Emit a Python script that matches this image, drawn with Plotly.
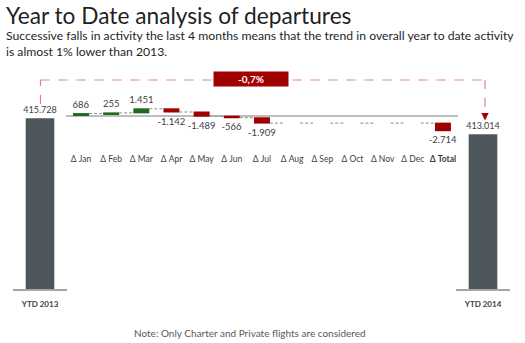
import plotly.graph_objects as go

# ---------------- data ----------------
months = ["Jan", "Feb", "Mar", "Apr", "May", "Jun", "Jul", "Aug", "Sep", "Oct", "Nov", "Dec"]
month_deltas = [686, 255, 1451, -1142, -1489, -566, -1909, 0, 0, 0, 0, 0]
ytd_labels = ["YTD 2013", "YTD 2014"]
ytd_values = [415728, 413014]

total_delta = sum(month_deltas)
pct_change = (ytd_values[1] - ytd_values[0]) / ytd_values[0] * 100

W, H = 525, 343
FONT = "Lato, 'Open Sans', sans-serif"
TXT = "#404040"
GREEN = "#1E6B1E"
RED = "#A00000"
SLATE = "#4E575C"
DASHRED = "rgb(232,130,130)"


def fmt(v):
    return f"{v:,}".replace(",", ".")


def fx(px):
    return px / W


def fy(py):
    return 1 - py / H


cats = ["Δ " + m for m in months] + ["Δ Total"]
ticktext = ["Δ " + m for m in months] + ["<b>Δ Total</b>"]
wf_values = month_deltas + [total_delta]
wf_text = [fmt(v) if v != 0 else "" for v in month_deltas] + [fmt(total_delta)]

fig = go.Figure()

fig.add_trace(go.Waterfall(
    x=cats, y=wf_values, measure=["relative"] * len(cats),
    text=wf_text, textposition="outside", texttemplate="%{text}", constraintext="none",
    textfont=dict(family=FONT, size=9.5, color=TXT),
    increasing=dict(marker=dict(color=GREEN, line=dict(width=0))),
    decreasing=dict(marker=dict(color=RED, line=dict(width=0))),
    totals=dict(marker=dict(color=RED, line=dict(width=0))),
    connector=dict(mode="between", line=dict(color="#8C8C8C", width=1, dash="3px,2px")),
    width=0.53, xaxis="x", yaxis="y", cliponaxis=False, hoverinfo="skip",
))

fig.add_trace(go.Bar(
    x=[ytd_labels[0]], y=[ytd_values[0]], text=[fmt(ytd_values[0])],
    textposition="outside", constraintext="none",
    textfont=dict(family=FONT, size=9, color=TXT),
    marker=dict(color=SLATE, line=dict(width=0)), width=0.53,
    xaxis="x2", yaxis="y2", cliponaxis=False,
))
fig.add_trace(go.Bar(
    x=[ytd_labels[1]], y=[ytd_values[1]], text=[fmt(ytd_values[1])],
    textposition="outside", constraintext="none",
    textfont=dict(family=FONT, size=9, color=TXT),
    marker=dict(color=SLATE, line=dict(width=0)), width=0.53,
    xaxis="x3", yaxis="y3", cliponaxis=False,
))

# scales
wf_y0_px, wf_px_per_unit = 115.5, 0.0028
wf_top_px, wf_bot_px = 60, 152
wf_range = [-(wf_bot_px - wf_y0_px) / wf_px_per_unit, (wf_y0_px - wf_top_px) / wf_px_per_unit]

big_base, big_px_per_unit = 386770, 0.005895
big_top_px, big_bot_px = 60, 289
big_range = [big_base, big_base + (big_bot_px - big_top_px) / big_px_per_unit]

tickfont = dict(family=FONT, size=8.5, color=TXT)
fig.update_layout(
    width=W, height=H, margin=dict(l=0, r=0, t=0, b=0),
    paper_bgcolor="white", plot_bgcolor="rgba(0,0,0,0)",
    showlegend=False, font=dict(family=FONT, color=TXT),
    xaxis=dict(domain=[fx(65.9), fx(458)], type="category", range=[-0.5, 12.5],
               tickvals=cats, ticktext=ticktext, tickfont=tickfont,
               showline=False, showgrid=False, zeroline=False, ticks="", anchor="y"),
    yaxis=dict(domain=[fy(wf_bot_px), fy(wf_top_px)], range=wf_range,
               showgrid=False, showticklabels=False, zeroline=True,
               zerolinecolor="#BDBDBD", zerolinewidth=1.5, anchor="x"),
    xaxis2=dict(domain=[fx(13), fx(67)], type="category", range=[-0.5, 0.5],
                tickfont=dict(family=FONT, size=8, color=TXT), showline=True,
                linecolor="#A6A6A6", linewidth=1.5, showgrid=False,
                ticks="outside", ticklen=7, tickcolor="rgba(0,0,0,0)", anchor="y2",
                tickvals=[ytd_labels[0]], ticktext=["<b>" + ytd_labels[0] + "</b>"]),
    yaxis2=dict(domain=[fy(big_bot_px), fy(big_top_px)], range=big_range,
                visible=False, anchor="x2"),
    xaxis3=dict(domain=[fx(456), fx(510)], type="category", range=[-0.5, 0.5],
                tickfont=dict(family=FONT, size=8, color=TXT), showline=True,
                linecolor="#A6A6A6", linewidth=1.5, showgrid=False,
                ticks="outside", ticklen=7, tickcolor="rgba(0,0,0,0)", anchor="y3",
                tickvals=[ytd_labels[1]], ticktext=["<b>" + ytd_labels[1] + "</b>"]),
    yaxis3=dict(domain=[fy(big_bot_px), fy(big_top_px)], range=big_range,
                visible=False, anchor="x3"),
)

# red dashed bracket from YTD 2013 to YTD 2014
line_style = dict(color=DASHRED, width=1.2, dash="dash")
shapes = [
    dict(type="line", xref="paper", yref="paper", x0=fx(40.5), x1=fx(40.5), y0=fy(104), y1=fy(80), line=line_style),
    dict(type="line", xref="paper", yref="paper", x0=fx(40.5), x1=fx(485), y0=fy(80), y1=fy(80), line=line_style),
    dict(type="line", xref="paper", yref="paper", x0=fx(485), x1=fx(485), y0=fy(80), y1=fy(113), line=line_style),
    dict(type="path", xref="paper", yref="paper",
         path=f"M {fx(481.3)},{fy(113)} L {fx(488.7)},{fy(113)} L {fx(485)},{fy(120.5)} Z",
         fillcolor=RED, line=dict(width=0)),
]
fig.update_layout(shapes=shapes)

pct_text = f"{pct_change:.1f}%".replace(".", ",")
annotations = [
    dict(text="<b>" + pct_text + "</b>", x=fx(251), y=fy(79.3), xref="paper", yref="paper",
         showarrow=False, bgcolor=RED, font=dict(family=FONT, size=10, color="white"),
         width=72, height=12, borderpad=1, xanchor="center", yanchor="middle"),
    dict(text="Year to Date analysis of departures", x=fx(4), y=fy(15), xref="paper", yref="paper",
         showarrow=False, xanchor="left", yanchor="middle",
         font=dict(family=FONT, size=22.7, color="#1F1F1F")),
    dict(text="Successive falls in activity the last 4 months means that the trend in overall year to date activity",
         x=fx(4), y=fy(35), xref="paper", yref="paper", showarrow=False, xanchor="left",
         yanchor="middle", font=dict(family=FONT, size=12.2, color="#1F1F1F")),
    dict(text="is almost 1% lower than 2013.",
         x=fx(4), y=fy(51.5), xref="paper", yref="paper", showarrow=False, xanchor="left",
         yanchor="middle", font=dict(family=FONT, size=12.2, color="#1F1F1F")),
    dict(text="Note: Only Charter and Private flights are considered",
         x=fx(249.5), y=fy(333), xref="paper", yref="paper", showarrow=False,
         xanchor="center", yanchor="middle", font=dict(family=FONT, size=10, color="#595959")),
]
fig.update_layout(annotations=annotations)

fig.write_html("out.html")
